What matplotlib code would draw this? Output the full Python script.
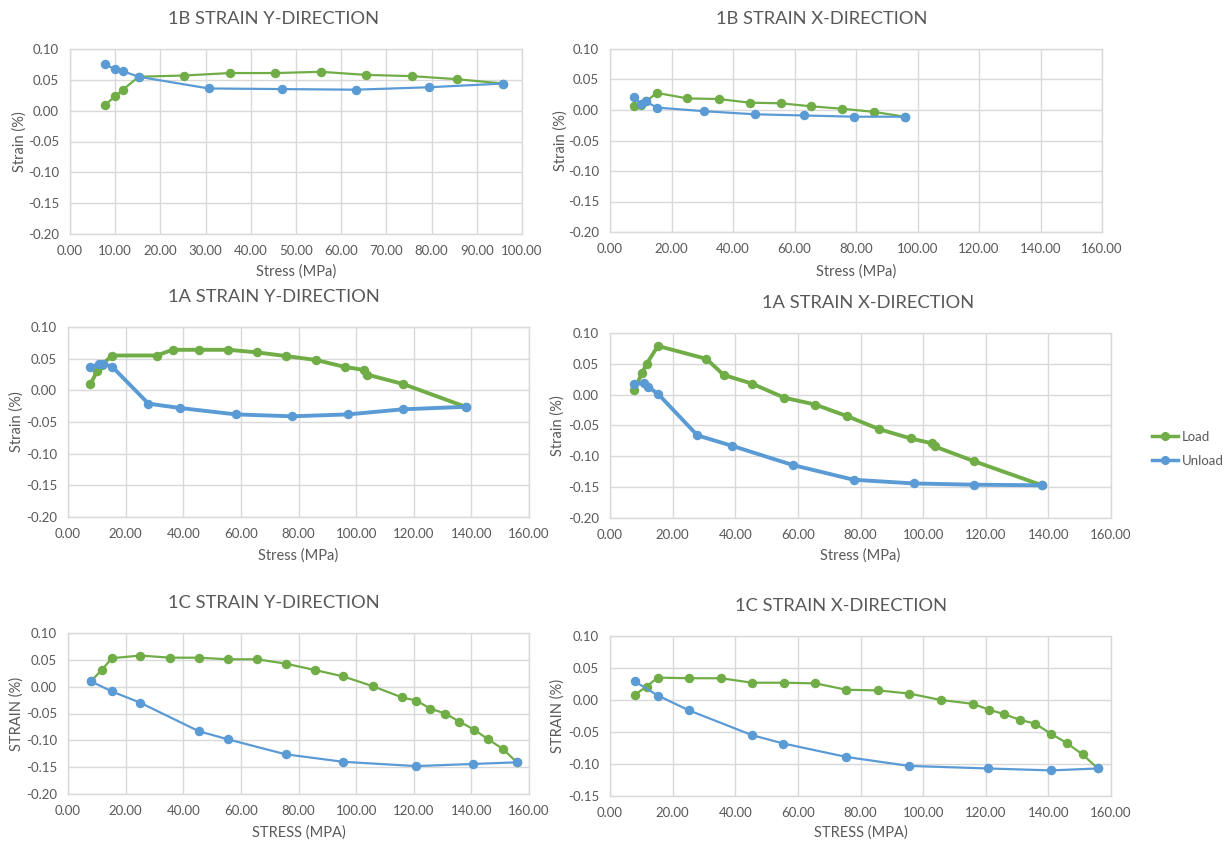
import matplotlib
matplotlib.use("Agg")
import matplotlib.pyplot as plt
from matplotlib.ticker import MultipleLocator, FuncFormatter
from matplotlib.lines import Line2D

plt.rcParams['font.family'] = ['Lato', 'DejaVu Sans']
plt.rcParams['axes.unicode_minus'] = False

GREEN = '#70AD47'
BLUE = '#5B9BD5'
GREY = '#595959'
GRID = '#D9D9D9'

# specimen 1B
stress_1b_load = [7.8, 10.0, 11.7, 15.2, 25.2, 35.4, 45.4, 55.5, 65.5, 75.6, 85.7, 95.8]
strain_1b_y_load = [0.010, 0.023, 0.034, 0.055, 0.057, 0.061, 0.061, 0.063, 0.058, 0.056, 0.051, 0.044]
strain_1b_x_load = [0.007, 0.009, 0.014, 0.028, 0.019, 0.018, 0.012, 0.011, 0.006, 0.002, -0.003, -0.011]
stress_1b_unload = [7.8, 10.0, 11.7, 15.2, 30.7, 47.0, 63.2, 79.5, 95.8]
strain_1b_y_unload = [0.075, 0.067, 0.064, 0.055, 0.036, 0.035, 0.034, 0.038, 0.044]
strain_1b_x_unload = [0.021, 0.010, 0.014, 0.004, -0.002, -0.007, -0.009, -0.011, -0.011]

# specimen 1A
stress_1a_load = [7.8, 10.2, 11.7, 15.3, 30.8, 36.3, 45.3, 55.7, 65.5, 75.8, 86.0, 96.0,
                  102.9, 103.7, 116.3, 138.0]
strain_1a_y_load = [0.010, 0.031, 0.040, 0.055, 0.055, 0.064, 0.064, 0.064, 0.060, 0.054,
                    0.048, 0.037, 0.032, 0.025, 0.010, -0.026]
strain_1a_x_load = [0.008, 0.035, 0.050, 0.079, 0.058, 0.032, 0.018, -0.005, -0.016, -0.035,
                    -0.056, -0.071, -0.079, -0.084, -0.108, -0.147]
stress_1a_unload = [7.8, 10.7, 12.1, 15.4, 27.9, 39.0, 58.3, 77.8, 97.2, 116.1, 138.0]
strain_1a_y_unload = [0.037, 0.041, 0.042, 0.037, -0.021, -0.028, -0.038, -0.041, -0.038, -0.030, -0.026]
strain_1a_x_unload = [0.017, 0.019, 0.013, 0.001, -0.066, -0.083, -0.114, -0.138, -0.144, -0.146, -0.147]

# specimen 1C
stress_1c_load = [7.9, 11.7, 15.2, 25.1, 35.4, 45.4, 55.6, 65.6, 75.5, 85.7, 95.6, 105.7,
                  115.9, 120.9, 125.8, 130.9, 135.8, 140.9, 145.8, 150.9, 155.8]
strain_1c_y_load = [0.010, 0.031, 0.053, 0.058, 0.054, 0.054, 0.051, 0.051, 0.043, 0.031, 0.019,
                    0.001, -0.020, -0.026, -0.041, -0.050, -0.065, -0.080, -0.098, -0.116, -0.141]
strain_1c_x_load = [0.008, 0.021, 0.035, 0.034, 0.034, 0.027, 0.027, 0.026, 0.016, 0.015, 0.010,
                    0.000, -0.006, -0.015, -0.022, -0.031, -0.037, -0.053, -0.067, -0.085, -0.107]
stress_1c_unload = [7.9, 15.3, 25.1, 45.4, 55.4, 75.5, 95.5, 120.8, 140.7, 155.8]
strain_1c_y_unload = [0.010, -0.009, -0.030, -0.083, -0.098, -0.126, -0.140, -0.148, -0.144, -0.141]
strain_1c_x_unload = [0.029, 0.007, -0.016, -0.055, -0.068, -0.089, -0.103, -0.107, -0.110, -0.107]

W, H = 1230, 844
fig = plt.figure(figsize=(W / 100, H / 100), dpi=100)
fig.patch.set_facecolor('white')


def px_axes(left, right, top, bottom):
    return fig.add_axes([left / W, 1 - bottom / H, (right - left) / W, (bottom - top) / H])


def fmt2(v, pos):
    return f"{v:.2f}"


def panel(rect, title, title_xy, xlab, ylab, ylab_x, xlab_y, xmax, xstep, ymin, loads, unloads, lw):
    ax = px_axes(*rect)
    (xl, yl), (xu, yu) = loads, unloads
    ax.plot(xl, yl, '-o', color=GREEN, lw=lw, ms=5.8, zorder=3)
    ax.plot(xu, yu, '-o', color=BLUE, lw=lw, ms=5.8, zorder=3)
    ax.set_xlim(0, xmax)
    ax.set_ylim(ymin, 0.10)
    ax.xaxis.set_major_locator(MultipleLocator(xstep))
    ax.yaxis.set_major_locator(MultipleLocator(0.05))
    ax.xaxis.set_major_formatter(FuncFormatter(fmt2))
    ax.yaxis.set_major_formatter(FuncFormatter(fmt2))
    ax.grid(True, color=GRID, lw=1.0, zorder=0)
    ax.set_axisbelow(True)
    for s in ax.spines.values():
        s.set_color(GRID)
        s.set_linewidth(1.0)
    ax.tick_params(length=0, labelsize=9.5, labelcolor=GREY, pad=8)
    left, right, top, bottom = rect
    fig.text(title_xy[0] / W, 1 - title_xy[1] / H, title, ha='center', va='center',
             fontsize=13.2, color=GREY)
    fig.text((left + right) / 2 / W, 1 - xlab_y / H, xlab, ha='center', va='center',
             fontsize=10.5, color=GREY)
    fig.text(ylab_x / W, 1 - (top + bottom) / 2 / H, ylab, ha='center', va='center',
             rotation=90, fontsize=10.5, color=GREY)
    return ax


panel((70, 522, 49, 234), '1B STRAIN Y-DIRECTION', (274, 19), 'Stress (MPa)', 'Strain (%)',
      20, 272, 100, 10, -0.20,
      (stress_1b_load, strain_1b_y_load), (stress_1b_unload, strain_1b_y_unload), 1.6)
panel((610, 1102, 49, 232), '1B STRAIN X-DIRECTION', (822, 19), 'Stress (MPa)', 'Strain (%)',
      561, 272, 160, 20, -0.20,
      (stress_1b_load, strain_1b_x_load), (stress_1b_unload, strain_1b_x_unload), 1.6)
panel((68, 529, 327, 517), '1A STRAIN Y-DIRECTION', (274, 297), 'Stress (MPa)', 'Strain (%)',
      17, 556, 160, 20, -0.20,
      (stress_1a_load, strain_1a_y_load), (stress_1a_unload, strain_1a_y_unload), 2.8)
panel((610, 1111, 333, 518), '1A STRAIN X-DIRECTION', (868, 303), 'Stress (MPa)', 'Strain (%)',
      558, 556, 160, 20, -0.20,
      (stress_1a_load, strain_1a_x_load), (stress_1a_unload, strain_1a_x_unload), 2.8)
panel((68, 529, 633, 794), '1C STRAIN Y-DIRECTION', (274, 603), 'STRESS (MPA)', 'STRAIN (%)',
      17, 833, 160, 20, -0.20,
      (stress_1c_load, strain_1c_y_load), (stress_1c_unload, strain_1c_y_unload), 1.6)
panel((610, 1111, 636, 796), '1C STRAIN X-DIRECTION', (841, 606), 'STRESS (MPA)', 'STRAIN (%)',
      558, 833, 160, 20, -0.15,
      (stress_1c_load, strain_1c_x_load), (stress_1c_unload, strain_1c_x_unload), 1.6)

handles = [Line2D([], [], color=GREEN, lw=2.5, marker='o', ms=5.5),
           Line2D([], [], color=BLUE, lw=2.5, marker='o', ms=5.5)]
fig.legend(handles, ['Load', 'Unload'], loc='center left', bbox_to_anchor=(1140 / W, 1 - 449 / H),
           frameon=False, fontsize=9.5, labelcolor=GREY, handlelength=2.0, handletextpad=0.3,
           labelspacing=0.9)

fig.savefig('out.png', dpi=100, facecolor='white')
